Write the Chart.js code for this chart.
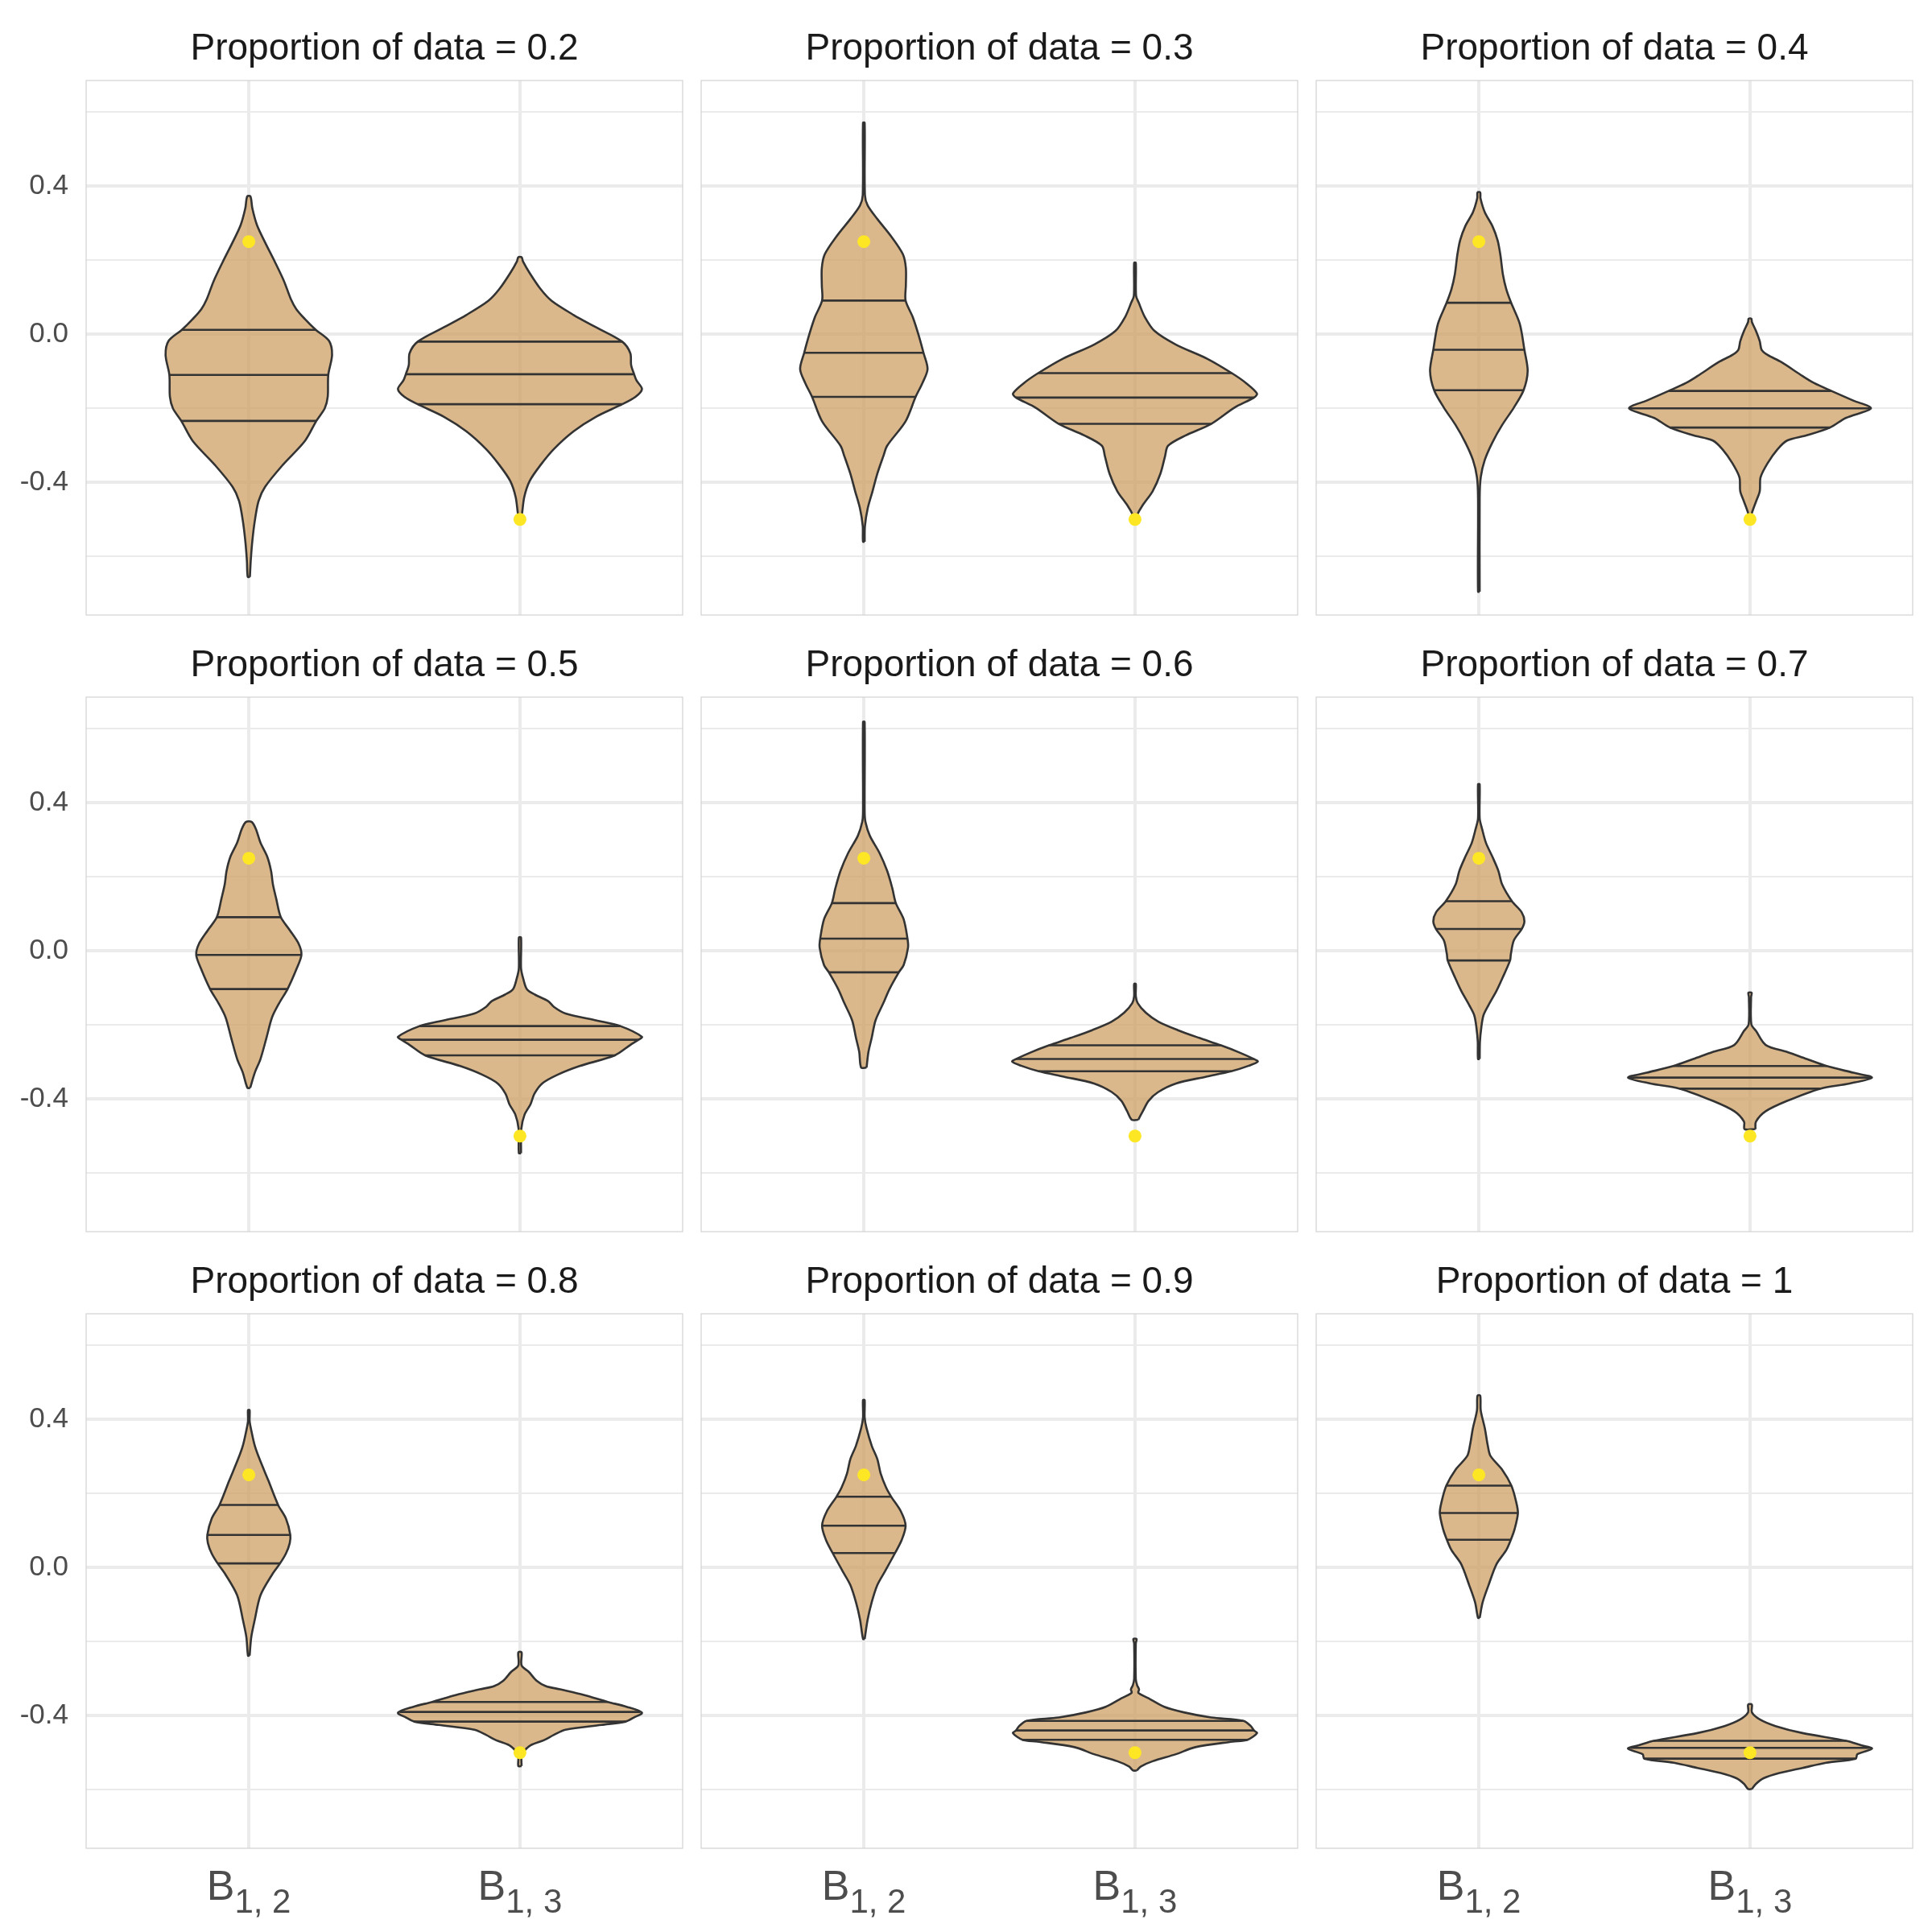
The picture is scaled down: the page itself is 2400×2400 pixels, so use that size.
<!DOCTYPE html>
<html>
<head>
<meta charset="utf-8">
<script src="https://cdn.jsdelivr.net/npm/chart.js@4.4.1/dist/chart.umd.min.js"></script>
<style>
html,body{margin:0;padding:0;background:#ffffff;}
#wrap{position:relative;width:2400px;height:2400px;background:#ffffff;overflow:hidden;}
#wrap canvas{position:absolute;}
</style>
</head>
<body>
<div id="wrap"></div>
<script>
// ---------------- data ----------------
const proportions = ['0.2','0.3','0.4','0.5','0.6','0.7','0.8','0.9','1'];
const categoryPositions = [1, 2];
const categoryMain = ['B', 'B'];
const categorySub = ['1, 2', '1, 3'];
const trueValues = [0.25, -0.5];
const yTickValues = [-0.6, -0.4, -0.2, 0, 0.2, 0.4, 0.6];
const yTickLabels = ['', '-0.4', '', '0.0', '', '0.4', ''];
const yMajorTicks = [-0.4, 0, 0.4];

// violin outlines: y levels (bottom -> top) and half-widths (x units); q = 25/50/75% quantiles
const p02_b12_y = [-0.655,-0.612,-0.558,-0.504,-0.450,-0.412,-0.353,-0.288,-0.234,-0.200,-0.169,-0.110,-0.056,-0.018,0.012,0.041,0.068,0.095,0.143,0.197,0.248,0.295,0.340,0.372];
const p02_b12_w = [0.004,0.007,0.013,0.022,0.036,0.060,0.125,0.207,0.249,0.280,0.291,0.293,0.307,0.296,0.247,0.207,0.175,0.155,0.130,0.095,0.060,0.030,0.013,0.006];
const p02_b12_q = [-0.234,-0.110,0.012];
const p02_b13_y = [-0.498,-0.482,-0.439,-0.396,-0.353,-0.310,-0.262,-0.223,-0.189,-0.169,-0.148,-0.125,-0.108,-0.083,-0.051,-0.020,0.019,0.052,0.090,0.122,0.165,0.197,0.208];
const p02_b13_w = [0.004,0.008,0.016,0.036,0.076,0.125,0.198,0.280,0.377,0.426,0.450,0.430,0.421,0.410,0.407,0.377,0.280,0.198,0.117,0.076,0.036,0.011,0.006];
const p02_b13_q = [-0.189,-0.108,-0.020];

const p03_b12_y = [-0.560,-0.518,-0.471,-0.424,-0.376,-0.329,-0.301,-0.235,-0.169,-0.132,-0.094,-0.050,0.000,0.047,0.091,0.132,0.179,0.216,0.264,0.311,0.348,0.376,0.571];
const p03_b12_w = [0.003,0.004,0.014,0.032,0.050,0.072,0.086,0.154,0.191,0.216,0.235,0.220,0.201,0.180,0.154,0.155,0.155,0.144,0.101,0.050,0.014,0.004,0.003];
const p03_b12_q = [-0.169,-0.050,0.091];
const p03_b13_y = [-0.502,-0.489,-0.461,-0.424,-0.376,-0.329,-0.301,-0.273,-0.242,-0.198,-0.171,-0.160,-0.132,-0.105,-0.066,-0.028,0.009,0.047,0.085,0.104,0.193];
const p03_b13_w = [0.003,0.007,0.029,0.065,0.094,0.111,0.122,0.187,0.281,0.367,0.439,0.450,0.410,0.357,0.266,0.151,0.072,0.036,0.014,0.004,0.003];
const p03_b13_q = [-0.242,-0.171,-0.105];

const p04_b12_y = [-0.695,-0.442,-0.386,-0.339,-0.292,-0.245,-0.198,-0.151,-0.099,-0.042,0.028,0.085,0.122,0.160,0.216,0.254,0.292,0.329,0.367,0.383];
const p04_b12_w = [0.003,0.003,0.007,0.022,0.050,0.086,0.129,0.165,0.180,0.168,0.151,0.119,0.101,0.089,0.079,0.069,0.050,0.022,0.006,0.005];
const p04_b12_q = [-0.151,-0.042,0.085];
const p04_b13_y = [-0.499,-0.485,-0.452,-0.424,-0.386,-0.348,-0.311,-0.287,-0.273,-0.252,-0.226,-0.200,-0.179,-0.153,-0.132,-0.113,-0.075,-0.056,-0.042,-0.019,0.009,0.033,0.042];
const p04_b13_w = [0.004,0.006,0.022,0.036,0.039,0.065,0.101,0.137,0.209,0.295,0.353,0.446,0.381,0.300,0.237,0.194,0.115,0.065,0.043,0.036,0.022,0.007,0.005];
const p04_b13_q = [-0.252,-0.200,-0.153];

const p05_b12_y = [-0.370,-0.329,-0.292,-0.235,-0.179,-0.141,-0.103,-0.047,-0.011,0.019,0.056,0.091,0.141,0.179,0.216,0.254,0.292,0.329,0.348];
const p05_b12_w = [0.005,0.022,0.043,0.065,0.086,0.112,0.143,0.177,0.194,0.184,0.151,0.118,0.101,0.089,0.082,0.068,0.043,0.026,0.011];
const p05_b12_q = [-0.103,-0.011,0.091];
const p05_b13_y = [-0.546,-0.480,-0.442,-0.414,-0.386,-0.358,-0.334,-0.311,-0.282,-0.254,-0.240,-0.232,-0.203,-0.188,-0.169,-0.151,-0.136,-0.118,-0.104,-0.075,-0.047,0.036];
const p05_b13_w = [0.004,0.005,0.017,0.039,0.053,0.082,0.140,0.220,0.350,0.407,0.437,0.450,0.370,0.283,0.168,0.125,0.105,0.055,0.026,0.012,0.004,0.004];
const p05_b13_q = [-0.282,-0.240,-0.203];

const p06_b12_y = [-0.315,-0.273,-0.235,-0.188,-0.141,-0.104,-0.058,-0.038,0.009,0.033,0.085,0.129,0.169,0.216,0.264,0.311,0.348,0.376,0.618];
const p06_b12_w = [0.010,0.017,0.029,0.043,0.072,0.094,0.129,0.147,0.163,0.161,0.147,0.118,0.105,0.086,0.058,0.022,0.006,0.003,0.003];
const p06_b12_q = [-0.058,0.033,0.129];
const p06_b13_y = [-0.456,-0.433,-0.405,-0.381,-0.358,-0.340,-0.325,-0.310,-0.299,-0.292,-0.273,-0.255,-0.235,-0.214,-0.191,-0.167,-0.141,-0.122,-0.089];
const p06_b13_w = [0.012,0.029,0.050,0.086,0.151,0.260,0.355,0.420,0.453,0.439,0.381,0.317,0.237,0.158,0.086,0.040,0.010,0.003,0.003];
const p06_b13_q = [-0.325,-0.292,-0.255];

const p07_b12_y = [-0.292,-0.245,-0.207,-0.174,-0.146,-0.108,-0.075,-0.026,-0.009,0.028,0.059,0.080,0.104,0.134,0.179,0.216,0.254,0.292,0.329,0.358,0.450];
const p07_b12_w = [0.003,0.004,0.009,0.017,0.036,0.065,0.086,0.115,0.118,0.129,0.158,0.168,0.158,0.122,0.086,0.072,0.050,0.026,0.012,0.003,0.003];
const p07_b12_q = [-0.026,0.059,0.134];
const p07_b13_y = [-0.481,-0.461,-0.433,-0.405,-0.372,-0.358,-0.342,-0.329,-0.311,-0.292,-0.273,-0.254,-0.216,-0.198,-0.125,-0.113];
const p07_b13_w = [0.020,0.022,0.058,0.137,0.259,0.367,0.450,0.381,0.283,0.209,0.137,0.058,0.022,0.005,0.004,0.006];
const p07_b13_q = [-0.372,-0.342,-0.311];

const p08_b12_y = [-0.238,-0.188,-0.141,-0.075,-0.019,0.011,0.038,0.066,0.088,0.132,0.169,0.235,0.292,0.329,0.367,0.395,0.425];
const p08_b12_w = [0.003,0.009,0.022,0.043,0.086,0.115,0.137,0.151,0.153,0.137,0.108,0.072,0.040,0.022,0.010,0.003,0.003];
const p08_b12_q = [0.011,0.088,0.169];
const p08_b13_y = [-0.536,-0.506,-0.494,-0.480,-0.466,-0.452,-0.438,-0.425,-0.416,-0.405,-0.392,-0.376,-0.363,-0.344,-0.329,-0.320,-0.306,-0.282,-0.264,-0.229];
const p08_b13_w = [0.006,0.006,0.017,0.039,0.089,0.125,0.168,0.300,0.390,0.420,0.450,0.393,0.324,0.235,0.148,0.095,0.062,0.033,0.006,0.006];
const p08_b13_q = [-0.416,-0.390,-0.363];

const p09_b12_y = [-0.193,-0.141,-0.094,-0.047,-0.009,0.039,0.075,0.113,0.151,0.191,0.216,0.254,0.292,0.329,0.376,0.405,0.452];
const p09_b12_w = [0.003,0.014,0.029,0.050,0.079,0.115,0.140,0.154,0.137,0.101,0.082,0.062,0.050,0.029,0.010,0.003,0.003];
const p09_b12_q = [0.039,0.113,0.191];
const p09_b13_y = [-0.548,-0.537,-0.523,-0.504,-0.485,-0.470,-0.465,-0.447,-0.440,-0.428,-0.414,-0.405,-0.391,-0.376,-0.353,-0.338,-0.329,-0.318,-0.301,-0.205,-0.193];
const p09_b13_w = [0.007,0.022,0.065,0.151,0.223,0.360,0.415,0.450,0.439,0.427,0.400,0.281,0.180,0.108,0.050,0.012,0.015,0.008,0.003,0.003,0.006];
const p09_b13_q = [-0.465,-0.440,-0.414];

const p10_b12_y = [-0.136,-0.094,-0.047,0.009,0.047,0.075,0.104,0.147,0.179,0.221,0.264,0.301,0.329,0.376,0.424,0.464];
const p10_b12_w = [0.003,0.014,0.036,0.065,0.101,0.118,0.132,0.144,0.137,0.120,0.086,0.043,0.033,0.022,0.007,0.005];
const p10_b12_q = [0.075,0.147,0.221];
const p10_b13_y = [-0.598,-0.584,-0.569,-0.555,-0.541,-0.527,-0.516,-0.504,-0.489,-0.480,-0.468,-0.447,-0.428,-0.410,-0.391,-0.370];
const p10_b13_w = [0.007,0.022,0.050,0.108,0.194,0.281,0.390,0.396,0.450,0.410,0.355,0.194,0.094,0.036,0.007,0.007];
const p10_b13_q = [-0.516,-0.487,-0.468];

// ---------------- assembly ----------------
const panels = [
  [[p02_b12_y, p02_b12_w, p02_b12_q], [p02_b13_y, p02_b13_w, p02_b13_q]],
  [[p03_b12_y, p03_b12_w, p03_b12_q], [p03_b13_y, p03_b13_w, p03_b13_q]],
  [[p04_b12_y, p04_b12_w, p04_b12_q], [p04_b13_y, p04_b13_w, p04_b13_q]],
  [[p05_b12_y, p05_b12_w, p05_b12_q], [p05_b13_y, p05_b13_w, p05_b13_q]],
  [[p06_b12_y, p06_b12_w, p06_b12_q], [p06_b13_y, p06_b13_w, p06_b13_q]],
  [[p07_b12_y, p07_b12_w, p07_b12_q], [p07_b13_y, p07_b13_w, p07_b13_q]],
  [[p08_b12_y, p08_b12_w, p08_b12_q], [p08_b13_y, p08_b13_w, p08_b13_q]],
  [[p09_b12_y, p09_b12_w, p09_b12_q], [p09_b13_y, p09_b13_w, p09_b13_q]],
  [[p10_b12_y, p10_b12_w, p10_b12_q], [p10_b13_y, p10_b13_w, p10_b13_q]]
];

const FONT = "'Liberation Sans', Arial, Helvetica, sans-serif";
const FILL = 'rgba(205,160,100,0.75)';
const LINE = '#333333';
const DOT = '#FDE725';
const GRID = '#EBEBEB';

const PANEL_LEFT = [107, 871, 1635];
const PANEL_TOP = [100, 866, 1632];
const PANEL_W = 741, PANEL_H = 664;
const PAD_L = 107, PAD_T = 100, PAD_R = 15, PAD_B = 104;
const TITLE_SIZE = 46, TITLE_TOP = 34;

function outlinePoints(center, ys, ws) {
  const pts = [];
  for (let i = 0; i < ys.length; i++) pts.push({x: center + ws[i], y: ys[i]});
  for (let i = ys.length - 1; i >= 0; i--) pts.push({x: center - ws[i], y: ys[i]});
  pts.push({x: center + ws[0], y: ys[0]});
  return pts;
}
function widthAt(ys, ws, v) {
  for (let i = 0; i < ys.length - 1; i++) {
    if (v >= ys[i] && v <= ys[i + 1]) {
      const t = (v - ys[i]) / (ys[i + 1] - ys[i]);
      return ws[i] + t * (ws[i + 1] - ws[i]);
    }
  }
  return 0;
}

const panelBorder = {
  id: 'panelBorder',
  beforeDatasetsDraw(chart) {
    const a = chart.chartArea, ctx = chart.ctx;
    ctx.save();
    ctx.strokeStyle = '#D2D2D2';
    ctx.lineWidth = 1.2;
    ctx.strokeRect(a.left, a.top, a.right - a.left, a.bottom - a.top);
    ctx.restore();
  }
};

const subLabels = {
  id: 'subLabels',
  afterDraw(chart, args, opts) {
    if (!opts.show) return;
    const ctx = chart.ctx, xs = chart.scales.x, a = chart.chartArea;
    ctx.save();
    ctx.fillStyle = '#4D4D4D';
    ctx.textBaseline = 'alphabetic';
    ctx.textAlign = 'left';
    categoryPositions.forEach((pos, i) => {
      const px = xs.getPixelForValue(pos);
      ctx.font = '52px ' + FONT;
      const wm = ctx.measureText(categoryMain[i]).width;
      ctx.font = '42px ' + FONT;
      const wsub = ctx.measureText(categorySub[i]).width;
      const x0 = px - (wm + wsub) / 2;
      ctx.font = '52px ' + FONT;
      ctx.fillText(categoryMain[i], x0, a.bottom + 64);
      ctx.font = '42px ' + FONT;
      ctx.fillText(categorySub[i], x0 + wm, a.bottom + 80);
    });
    ctx.restore();
  }
};

const wrap = document.getElementById('wrap');

panels.forEach((panel, p) => {
  const row = Math.floor(p / 3), col = p % 3;
  const canvas = document.createElement('canvas');
  const cw = PANEL_W + PAD_L + PAD_R, ch = PANEL_H + PAD_T + PAD_B;
  canvas.width = cw; canvas.height = ch;
  canvas.style.width = cw + 'px'; canvas.style.height = ch + 'px';
  canvas.style.left = (PANEL_LEFT[col] - PAD_L) + 'px';
  canvas.style.top = (PANEL_TOP[row] - PAD_T) + 'px';
  wrap.appendChild(canvas);

  const datasets = [];
  // true-value dots (top)
  datasets.push({
    data: trueValues.map((v, i) => ({x: categoryPositions[i], y: v})),
    showLine: false, pointRadius: 8, pointBackgroundColor: DOT,
    pointBorderWidth: 0, pointBorderColor: DOT, order: 0
  });
  panel.forEach((v, i) => {
    const [ys, ws, qs] = v;
    const c = categoryPositions[i];
    qs.forEach(q => {
      const hw = widthAt(ys, ws, q);
      datasets.push({
        data: [{x: c - hw, y: q}, {x: c + hw, y: q}],
        borderColor: LINE, borderWidth: 2.6, pointRadius: 0,
        tension: 0, fill: false, order: 1
      });
    });
    datasets.push({
      data: outlinePoints(c, ys, ws),
      borderColor: LINE, borderWidth: 2.6, backgroundColor: FILL,
      fill: 'shape', pointRadius: 0, tension: 0.3, order: 2,
      borderJoinStyle: 'round'
    });
  });

  new Chart(canvas, {
    type: 'line',
    data: {datasets},
    options: {
      responsive: false, animation: false, devicePixelRatio: 1, events: [],
      layout: {padding: {left: 0, right: PAD_R, top: TITLE_TOP, bottom: PAD_B}},
      plugins: {
        legend: {display: false},
        tooltip: {enabled: false},
        title: {
          display: true, fullSize: false, text: 'Proportion of data = ' + proportions[p],
          color: '#1A1A1A', font: {family: FONT, size: TITLE_SIZE, weight: 'normal', lineHeight: 1.2},
          padding: {top: 0, bottom: PAD_T - TITLE_TOP - TITLE_SIZE * 1.2}
        },
        subLabels: {show: row === 2}
      },
      scales: {
        x: {
          type: 'linear', min: 0.4, max: 2.6,
          afterBuildTicks: s => { s.ticks = categoryPositions.map(v => ({value: v})); },
          afterFit: s => { s.height = 0; },
          ticks: {display: false},
          grid: {color: GRID, lineWidth: 4, drawTicks: false},
          border: {display: false}
        },
        y: {
          type: 'linear', min: -0.758, max: 0.685,
          afterBuildTicks: s => { s.ticks = yTickValues.map(v => ({value: v})); },
          afterFit: s => { s.width = PAD_L; },
          ticks: {
            display: col === 0, padding: 22, color: '#4D4D4D',
            font: {family: FONT, size: 35},
            autoSkip: false,
            callback: (value, index) => yTickLabels[index]
          },
          grid: {
            color: GRID, drawTicks: false,
            lineWidth: ctx => (ctx.tick && yMajorTicks.includes(ctx.tick.value)) ? 4 : 2
          },
          border: {display: false}
        }
      }
    },
    plugins: [panelBorder, subLabels]
  });
});
</script>
</body>
</html>
